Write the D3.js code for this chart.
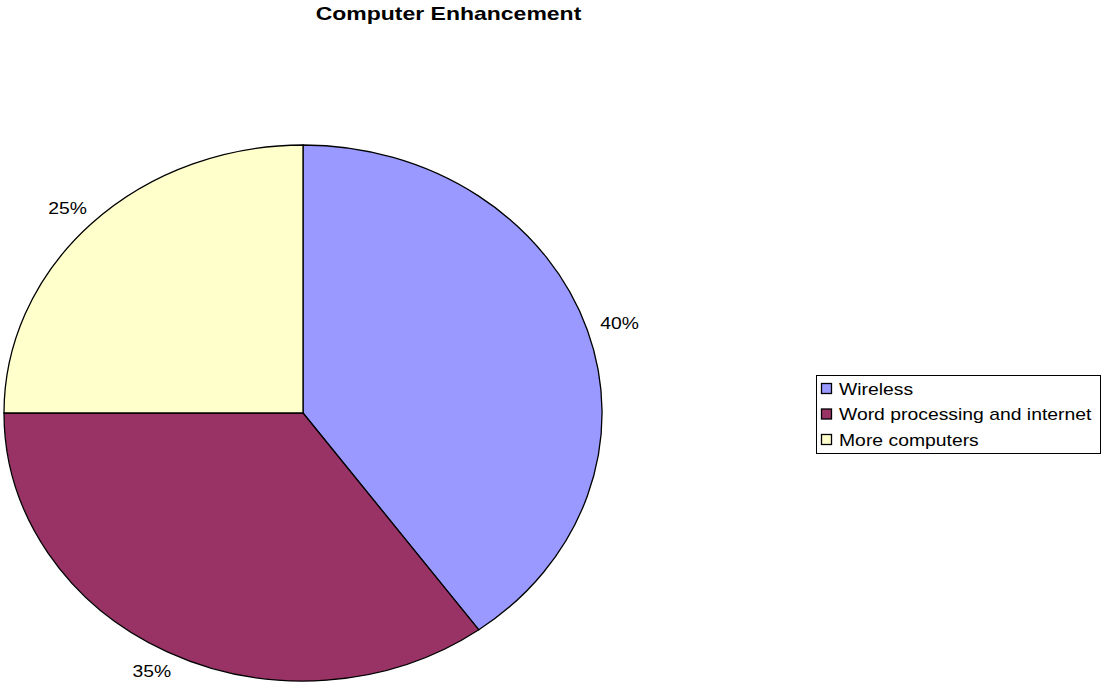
<!DOCTYPE html>
<html>
<head>
<meta charset="utf-8">
<script src="https://cdn.jsdelivr.net/npm/d3@7"></script>
<style>
  body { margin: 0; background: #fff; }
  text { font-family: Arial, "Liberation Sans", sans-serif; }
</style>
</head>
<body>
<div id="chart"></div>
<script>
const categories = ["Wireless", "Word processing and internet", "More computers"];
const values = [40, 35, 25];
const colors = ["#9999ff", "#993366", "#ffffcc"];

const conf = {
  width: 1101, height: 683,
  cx: 303, cy: 413, rx: 299, ry: 268,
  padX: 34, padY: 22,
  stretch: 1.21
};

const svg = d3.select("#chart")
  .append("svg")
  .attr("width", conf.width)
  .attr("height", conf.height);

// text in the original is rendered a bit wider than Arial
function wideText(sel, x, y) {
  return sel.append("text")
    .attr("transform", `translate(${x},${y}) scale(${conf.stretch},1)`);
}

wideText(svg, 448.5, 20)
  .attr("text-anchor", "middle")
  .attr("font-size", 19)
  .attr("font-weight", "bold")
  .text("Computer Enhancement");

const pie = d3.pie().sort(null).value(d => d);
const arcs = pie(values);
const arc = d3.arc().innerRadius(0).outerRadius(1);

// ellipse: draw a unit pie and stretch it
const g = svg.append("g")
  .attr("transform", `translate(${conf.cx},${conf.cy}) scale(${conf.rx},${conf.ry})`);

g.selectAll("path")
  .data(arcs)
  .join("path")
  .attr("d", arc)
  .attr("fill", (d, i) => colors[i])
  .attr("stroke", "#000")
  .attr("stroke-width", 1.3)
  .attr("vector-effect", "non-scaling-stroke");

const total = d3.sum(values);
arcs.forEach(d => {
  const mid = (d.startAngle + d.endAngle) / 2;
  const x = conf.cx + Math.sin(mid) * (conf.rx + conf.padX);
  const y = conf.cy - Math.cos(mid) * (conf.ry + conf.padY) + 6;
  wideText(svg, x, y)
    .attr("text-anchor", "middle")
    .attr("font-size", 16)
    .text(Math.round(d.value / total * 100) + "%");
});

// legend
const legend = svg.append("g").attr("transform", "translate(816.5,375.5)");
legend.append("rect")
  .attr("width", 284).attr("height", 78)
  .attr("fill", "#fff").attr("stroke", "#000").attr("stroke-width", 1);

categories.forEach((c, i) => {
  const item = legend.append("g")
    .attr("transform", `translate(5,${8 + i * 25.5})`);
  item.append("rect")
    .attr("width", 10).attr("height", 10)
    .attr("fill", colors[i])
    .attr("stroke", "#000").attr("stroke-width", 1.3);
  wideText(item, 17.5, 11)
    .attr("font-size", 16)
    .text(c);
});
</script>
</body>
</html>
